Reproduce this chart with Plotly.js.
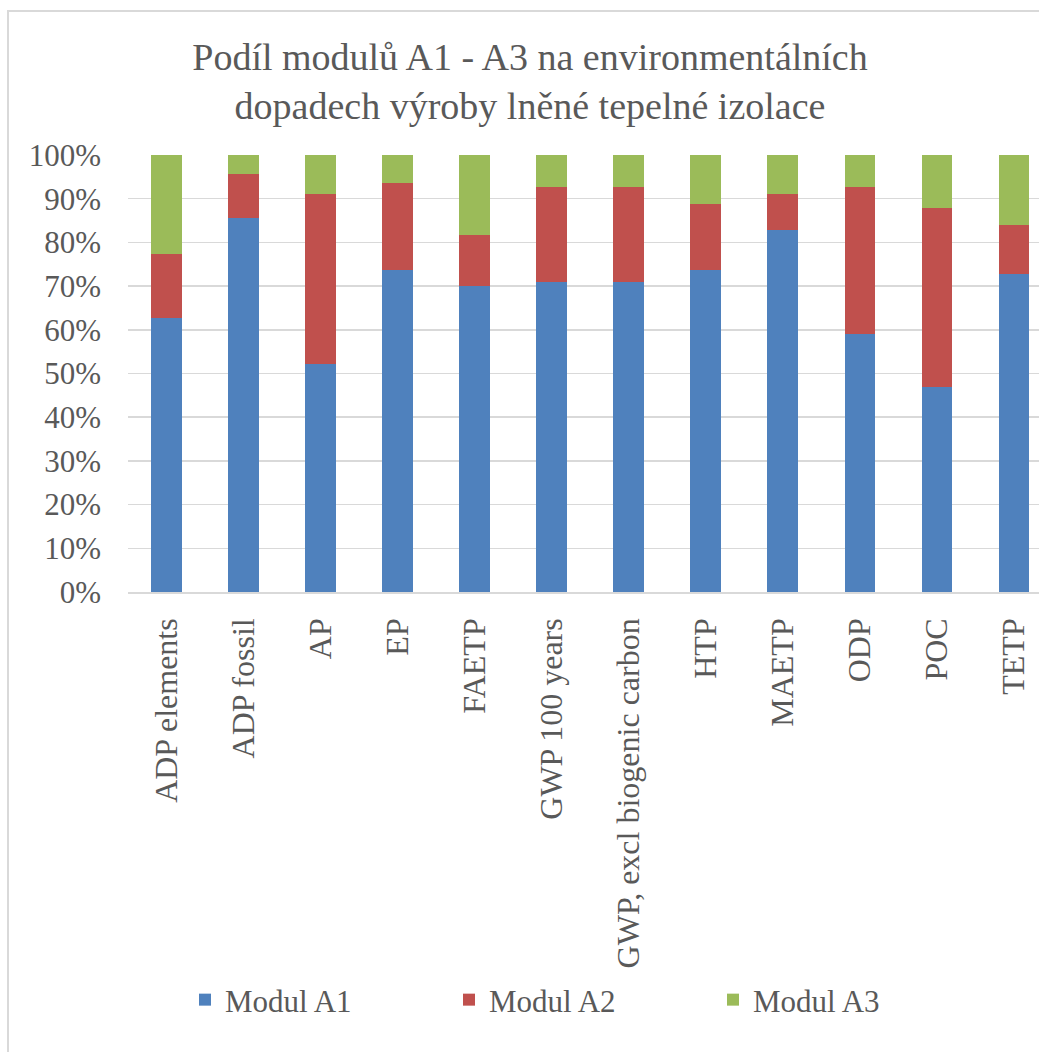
<!DOCTYPE html>
<html>
<head>
<meta charset="utf-8">
<script src="https://cdn.plot.ly/plotly-3.0.1.min.js"></script>
<style>
  html, body { margin: 0; padding: 0; background: #fff; }
  #chart { width: 1039px; height: 1052px; position: absolute; left: 0; top: 0; }
  #frame { position: absolute; left: 7px; top: 10px; width: 1040px; height: 1050px;
           border-left: 2px solid #d9d9d9; border-top: 2px solid #d9d9d9; pointer-events: none; }
</style>
</head>
<body>
<div id="chart"></div>
<div id="frame"></div>
<script>
// Categories (impact indicators)
const categories = [
  "ADP elements", "ADP fossil", "AP", "EP", "FAETP", "GWP 100 years",
  "GWP, excl biogenic carbon", "HTP", "MAETP", "ODP", "POC", "TETP"
];
// Share of each module in %
const modulA1 = [62.6, 85.5, 52.1, 73.7, 70.0, 70.9, 70.9, 73.7, 82.8, 59.0, 47.0, 72.7];
const modulA2 = [14.7, 10.1, 38.9, 20.0, 11.8, 21.8, 21.8, 15.0,  8.2, 33.7, 40.8, 11.3];
const modulA3 = [22.7,  4.4,  9.0,  6.3, 18.2,  7.3,  7.3, 11.3,  9.0,  7.3, 12.2, 16.0];
const seriesNames = ["Modul A1", "Modul A2", "Modul A3"];
const yTickVals = [0, 10, 20, 30, 40, 50, 60, 70, 80, 90, 100];
const yTickText = ["0%", "10%", "20%", "30%", "40%", "50%", "60%", "70%", "80%", "90%", "100%"];

const colors = ["#4f81bd", "#c0504d", "#9bbb59"];
const FONT = "Liberation Serif";
const series = [modulA1, modulA2, modulA3];

const data = series.map((vals, i) => ({
  type: "bar",
  name: seriesNames[i],
  x: categories,
  y: vals,
  marker: { color: colors[i], line: { width: 0 } },
  hoverinfo: "skip"
}));

const layout = {
  width: 1039,
  height: 1052,
  paper_bgcolor: "#ffffff",
  plot_bgcolor: "#ffffff",
  barmode: "stack",
  bargap: 0.6,
  margin: { l: 128, r: 0, t: 155, b: 460, pad: 0 },
  font: { family: FONT, color: "#595959", size: 31 },
  title: {
    text: "Podíl modulů A1 - A3 na environmentálních<br>dopadech výroby lněné tepelné izolace",
    font: { family: FONT, size: 38, color: "#595959", lineposition: "none" },
    xref: "container", yref: "container",
    x: 530 / 1039, xanchor: "center",
    y: 1 - 70 / 1052, yanchor: "middle"
  },
  xaxis: {
    type: "category",
    range: [-0.5, 11.324],
    tickangle: -90,
    tickfont: { family: FONT, size: 32, color: "#595959" },
    ticks: "",
    ticklabelstandoff: 12,
    showgrid: false,
    showline: true,
    linecolor: "#d9d9d9",
    linewidth: 1.5,
    zeroline: false,
    fixedrange: true
  },
  yaxis: {
    range: [0, 100],
    tickvals: yTickVals,
    ticktext: yTickText,
    tickfont: { family: FONT, size: 31, color: "#595959" },
    ticks: "",
    ticklabelstandoff: 26,
    showgrid: true,
    gridcolor: "#d9d9d9",
    gridwidth: 1.5,
    showline: false,
    zeroline: false,
    fixedrange: true
  },
  showlegend: true,
  legend: {
    orientation: "h",
    xref: "container", yref: "container",
    x: 185 / 1039, xanchor: "left",
    y: 1 - 1000 / 1052, yanchor: "middle",
    font: { family: FONT, size: 31, color: "#595959" },
    entrywidth: 219,
    traceorder: "normal",
    bgcolor: "rgba(0,0,0,0)"
  }
};

Plotly.newPlot("chart", data, layout, { displayModeBar: false, staticPlot: true });
</script>
</body>
</html>
